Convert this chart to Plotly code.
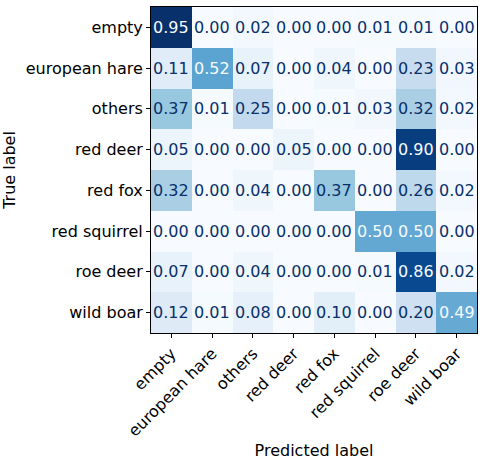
import plotly.graph_objects as go

# class names (same for rows and columns)
labels = ["empty", "european hare", "others", "red deer",
          "red fox", "red squirrel", "roe deer", "wild boar"]

# normalized confusion matrix, rows = true label, cols = predicted label
row_empty = [0.95, 0.00, 0.02, 0.00, 0.00, 0.01, 0.01, 0.00]
row_hare = [0.11, 0.52, 0.07, 0.00, 0.04, 0.00, 0.23, 0.03]
row_others = [0.37, 0.01, 0.25, 0.00, 0.01, 0.03, 0.32, 0.02]
row_red_deer = [0.05, 0.00, 0.00, 0.05, 0.00, 0.00, 0.90, 0.00]
row_red_fox = [0.32, 0.00, 0.04, 0.00, 0.37, 0.00, 0.26, 0.02]
row_squirrel = [0.00, 0.00, 0.00, 0.00, 0.00, 0.50, 0.50, 0.00]
row_roe_deer = [0.07, 0.00, 0.04, 0.00, 0.00, 0.01, 0.86, 0.02]
row_boar = [0.12, 0.01, 0.08, 0.00, 0.10, 0.00, 0.20, 0.49]

cm = [row_empty, row_hare, row_others, row_red_deer,
      row_red_fox, row_squirrel, row_roe_deer, row_boar]

# matplotlib "Blues"
blues = [
    [0.0, "#f7fbff"], [0.125, "#deebf7"], [0.25, "#c6dbef"],
    [0.375, "#9ecae1"], [0.5, "#6baed6"], [0.625, "#4292c6"],
    [0.75, "#2171b5"], [0.875, "#08519c"], [1.0, "#08306b"],
]

zmin = min(min(r) for r in cm)
zmax = max(max(r) for r in cm)
thresh = (zmin + zmax) / 2

fig = go.Figure()
fig.add_trace(go.Heatmap(
    z=cm, x=labels, y=labels,
    colorscale=blues, zmin=zmin, zmax=zmax,
    showscale=False, hoverinfo="skip",
))

# cell texts, white on dark cells
annotations = []
for i, true_lab in enumerate(labels):
    for j, pred_lab in enumerate(labels):
        v = cm[i][j]
        annotations.append(dict(
            x=pred_lab, y=true_lab, xref="x", yref="y",
            text=f"{v:.2f}", showarrow=False,
            font=dict(size=16, color="#f7fbff" if v > thresh else "#08306b"),
        ))

fig.update_layout(
    width=484, height=460,
    margin=dict(l=151, r=7, t=7, b=127),
    paper_bgcolor="white", plot_bgcolor="white",
    font=dict(family="DejaVu Sans", size=16, color="black"),
    annotations=annotations,
)
fig.update_xaxes(
    title=dict(text="Predicted label", standoff=9, font=dict(size=16)),
    tickangle=-45, tickfont=dict(size=16),
    ticks="outside", ticklen=4, tickcolor="black",
    showline=True, linecolor="black", linewidth=1, mirror=True,
    showgrid=False, zeroline=False, automargin=False,
)
fig.update_yaxes(
    title=dict(text="True label", standoff=12, font=dict(size=16)),
    autorange="reversed", tickfont=dict(size=16),
    ticks="outside", ticklen=4, tickcolor="black",
    showline=True, linecolor="black", linewidth=1, mirror=True,
    showgrid=False, zeroline=False, automargin=False,
)

fig.write_html(
    "out.html",
    config={"displayModeBar": False},
    post_script="document.body.style.margin='0';document.body.style.overflow='hidden';",
)
